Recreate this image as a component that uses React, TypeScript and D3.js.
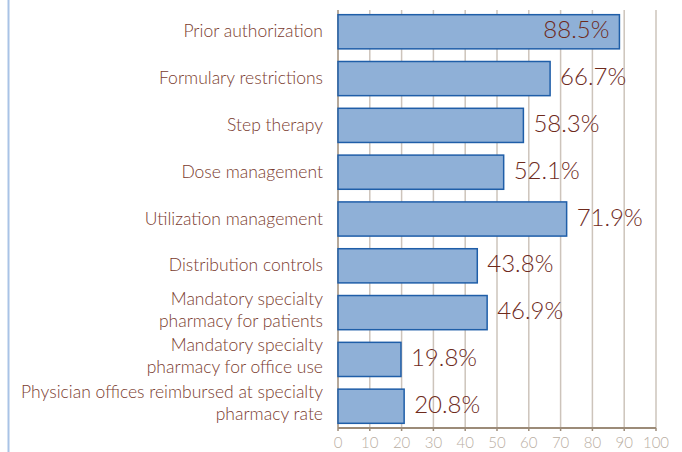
import React, { useRef, useEffect } from 'react';
import * as d3 from 'd3';

const categories = [
  'Prior authorization',
  'Formulary restrictions',
  'Step therapy',
  'Dose management',
  'Utilization management',
  'Distribution controls',
  'Mandatory specialty\npharmacy for patients',
  'Mandatory specialty\npharmacy for office use',
  'Physician offices reimbursed at specialty\npharmacy rate',
];
const values = [88.5, 66.7, 58.3, 52.1, 71.9, 43.8, 46.9, 19.8, 20.8];
const xTicks = [0, 10, 20, 30, 40, 50, 60, 70, 80, 90, 100];

const FONT = 'Lato, "Open Sans", sans-serif';
const BROWN = '#7a3b2e';

function App() {
  const svgRef = useRef(null);

  useEffect(() => {
    const svg = d3.select(svgRef.current);
    svg.selectAll('*').remove();

    const width = 682;
    const height = 452;
    const margin = { top: 10, right: 26, bottom: 24, left: 338 };

    const x = d3.scaleLinear()
      .domain([0, 100])
      .range([margin.left, width - margin.right]);

    const y = d3.scaleBand()
      .domain(categories)
      .range([margin.top, height - margin.bottom])
      .paddingInner(0.27)
      .paddingOuter(0.1);

    // left blue rule
    svg.append('line')
      .attr('x1', 8.5).attr('x2', 8.5)
      .attr('y1', 0).attr('y2', height)
      .attr('stroke', '#a9c3e6')
      .attr('stroke-width', 2);

    // gridlines
    svg.append('g')
      .selectAll('line')
      .data(xTicks.slice(1))
      .enter().append('line')
      .attr('x1', d => x(d)).attr('x2', d => x(d))
      .attr('y1', margin.top).attr('y2', height - margin.bottom)
      .attr('stroke', '#cdc4bb')
      .attr('stroke-width', 1.5);

    // y axis line
    svg.append('line')
      .attr('x1', x(0)).attr('x2', x(0))
      .attr('y1', margin.top).attr('y2', height - margin.bottom)
      .attr('stroke', '#9c8b78')
      .attr('stroke-width', 1.5);

    // bars
    svg.append('g')
      .selectAll('rect')
      .data(values)
      .enter().append('rect')
      .attr('x', x(0))
      .attr('y', (d, i) => y(categories[i]))
      .attr('width', d => x(d) - x(0))
      .attr('height', y.bandwidth())
      .attr('fill', '#8fb0d7')
      .attr('stroke', '#1f5ea8')
      .attr('stroke-width', 1.5);

    // value labels
    svg.append('g')
      .selectAll('text')
      .data(values)
      .enter().append('text')
      .attr('x', d => d > 80 ? x(d) - 10 : x(d) + 10)
      .attr('y', (d, i) => y(categories[i]) + y.bandwidth() / 2 - 2)
      .attr('dy', '0.36em')
      .attr('text-anchor', d => d > 80 ? 'end' : 'start')
      .attr('font-family', FONT)
      .attr('font-weight', 300)
      .attr('font-size', 24)
      .attr('fill', '#6e2a1c')
      .text(d => d.toFixed(1) + '%');

    // category labels
    const labels = svg.append('g')
      .attr('font-family', FONT)
      .attr('font-weight', 300)
      .attr('font-size', 17.5)
      .attr('fill', BROWN)
      .attr('text-anchor', 'end');

    categories.forEach(c => {
      const lines = c.split('\n');
      const cy = y(c) + y.bandwidth() / 2;
      const t = labels.append('text');
      lines.forEach((l, i) => {
        const off = lines.length > 1 ? (i - (lines.length - 1) / 2) * 22 + 3 : 5.5;
        t.append('tspan')
          .attr('x', 323)
          .attr('y', cy + off)
          .text(l);
      });
    });

    // x axis
    const axis = svg.append('g')
      .attr('transform', `translate(0,${height - margin.bottom})`);
    axis.append('line')
      .attr('x1', x(0)).attr('x2', x(100))
      .attr('stroke', '#9c8b78')
      .attr('stroke-width', 2);
    axis.selectAll('line.tick')
      .data(xTicks)
      .enter().append('line')
      .attr('class', 'tick')
      .attr('x1', d => x(d)).attr('x2', d => x(d))
      .attr('y1', 0).attr('y2', 3)
      .attr('stroke', '#9c8b78')
      .attr('stroke-width', 1.5);
    axis.selectAll('text')
      .data(xTicks)
      .enter().append('text')
      .attr('x', d => x(d))
      .attr('y', 20)
      .attr('text-anchor', 'middle')
      .attr('font-family', FONT)
      .attr('font-weight', 300)
      .attr('font-size', 15)
      .attr('fill', '#b9aea2')
      .text(d => d);
  }, []);

  return (
    <svg
      ref={svgRef}
      width={682}
      height={452}
      style={{ display: 'block', position: 'absolute', left: 0, top: 0 }}
    />
  );
}

export default App;
